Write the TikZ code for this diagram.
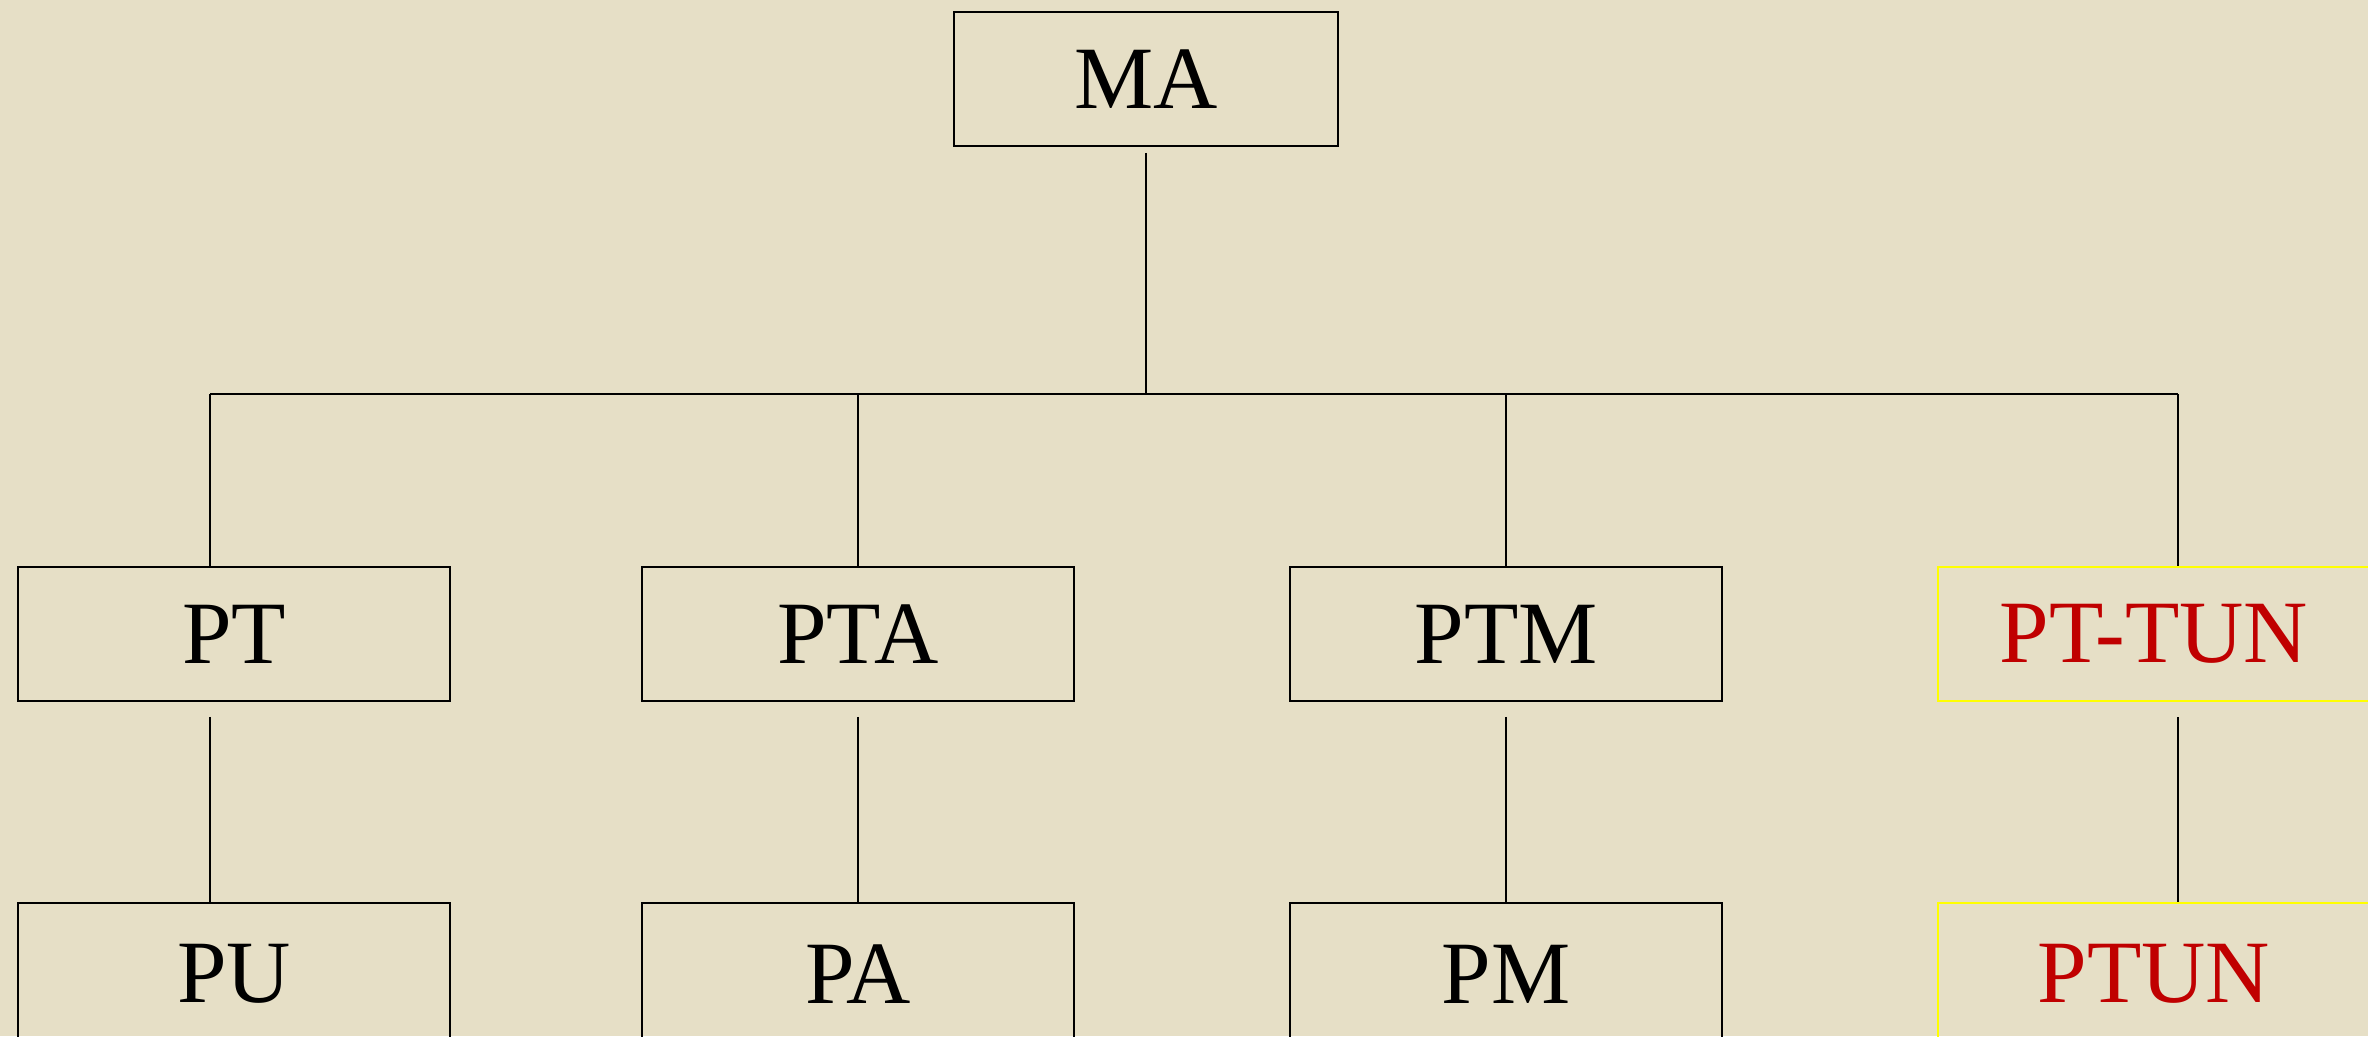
\documentclass[tikz,border=0pt]{standalone}
\usepackage{fontspec}
\setmainfont{Liberation Serif}
\definecolor{bg}{HTML}{E6DFC6}
\definecolor{redtext}{HTML}{C00000}
\definecolor{ylw}{HTML}{FFFF00}
\begin{document}
\begin{tikzpicture}[x=1pt,y=-1pt,
  box/.style={draw=black,line width=1.5pt,rectangle,inner sep=0pt,
    minimum width=432pt,minimum height=134pt,
    font=\fontsize{89}{89}\selectfont,text=black},
  topbox/.style={box,minimum width=384pt},
  lowbox/.style={box,minimum height=142pt},
  hibox/.style={draw=ylw,line width=2pt,text=redtext},
  conn/.style={draw=black,line width=1.5pt}]
\fill[bg] (0,0) rectangle (2368,1036);
\useasboundingbox (0,0) rectangle (2368,1036);
\begin{scope}
\clip (0,0) rectangle (2368,1036);
\node[topbox] (ma) at (1146,79) {MA};
\node[box] (pt) at (234,634) {PT};
\node[box] (pta) at (858,634) {PTA};
\node[box] (ptm) at (1506,634) {PTM};
\node[box,hibox] (pttun) at (2154,634) {PT-TUN};
\node[lowbox] (pu) at (234,974) {PU};
\node[lowbox] (pa) at (858,974) {PA};
\node[lowbox] (pm) at (1506,974) {PM};
\node[lowbox,hibox] (ptun) at (2154,974) {PTUN};
\coordinate (bmid) at (1146,394);
\coordinate (b1) at (210,394);
\coordinate (b2) at (858,394);
\coordinate (b3) at (1506,394);
\coordinate (b4) at (2178,394);
\draw[conn] ([yshift=-6pt]ma.south) -- (bmid);
\draw[conn] (b1) -- (b4);
\draw[conn] (b1) -- (b1 |- pt.north);
\draw[conn] (b2) -- (b2 |- pta.north);
\draw[conn] (b3) -- (b3 |- ptm.north);
\draw[conn] (b4) -- (b4 |- pttun.north);
\draw[conn] ([yshift=-15pt]b1 |- pt.south) -- (b1 |- pu.north);
\draw[conn] ([yshift=-15pt]b2 |- pta.south) -- (b2 |- pa.north);
\draw[conn] ([yshift=-15pt]b3 |- ptm.south) -- (b3 |- pm.north);
\draw[conn] ([yshift=-15pt]b4 |- pttun.south) -- (b4 |- ptun.north);
\end{scope}
\end{tikzpicture}
\end{document}
